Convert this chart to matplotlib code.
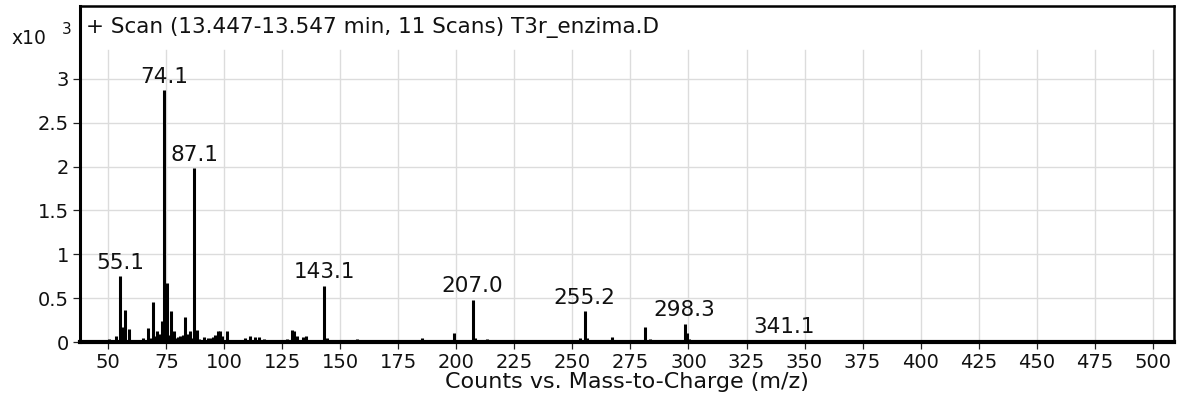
import matplotlib
matplotlib.use("Agg")
import matplotlib.pyplot as plt

# ---- data (m/z, intensity in x10^3 counts) ----
mz = [50.1, 51.1, 53.1, 55.1, 56.1, 57.1, 59.1, 65.1, 67.1, 68.1, 69.1, 70.1,
      71.1, 72.1, 73.1, 74.1, 75.1, 76.1, 77.1, 78.1, 79.1, 80.1, 81.1, 82.1,
      83.1, 84.1, 85.1, 86.1, 87.1, 88.1, 89.1, 91.1, 93.1, 94.1, 95.1, 96.1,
      97.1, 98.1, 99.1, 101.1, 109.1, 111.1, 113.1, 115.1, 117.1, 119.1, 121.1,
      127.1, 129.1, 130.1, 131.1, 134.1, 135.1, 143.1, 144.1, 147.1, 157.1,
      185.1, 191.1, 199.1, 207.0, 208.0, 213.1, 241.1, 253.1, 255.2, 256.2,
      267.2, 269.2, 281.2, 283.2, 298.3, 299.3, 300.3, 341.1]
intensity = [0.03, 0.02, 0.07, 0.75, 0.17, 0.37, 0.15, 0.04, 0.16, 0.05, 0.46, 0.07,
             0.13, 0.09, 0.24, 2.87, 0.67, 0.08, 0.35, 0.12, 0.05, 0.06, 0.07, 0.08,
             0.28, 0.09, 0.12, 0.05, 1.98, 0.14, 0.03, 0.06, 0.05, 0.04, 0.06, 0.08,
             0.12, 0.13, 0.07, 0.12, 0.04, 0.07, 0.06, 0.06, 0.03, 0.02, 0.02,
             0.03, 0.14, 0.12, 0.07, 0.06, 0.07, 0.64, 0.05, 0.02, 0.03,
             0.04, 0.02, 0.10, 0.48, 0.04, 0.03, 0.02, 0.04, 0.35, 0.04,
             0.06, 0.02, 0.17, 0.03, 0.21, 0.10, 0.03, 0.02]
labeled_peaks = ["55.1", "74.1", "87.1", "143.1", "207.0", "255.2", "298.3", "341.1"]
x_ticks = list(range(50, 501, 25))
y_ticks = [0, 0.5, 1, 1.5, 2, 2.5, 3]
y_tick_labels = ["0", "0.5", "1", "1.5", "2", "2.5", "3"]
title = "+ Scan (13.447-13.547 min, 11 Scans) T3r_enzima.D"
xlabel = "Counts vs. Mass-to-Charge (m/z)"

plt.rcParams['font.family'] = ['DejaVu Sans']

fig = plt.figure(figsize=(11.79, 3.97), dpi=100)
ax = fig.add_axes([80/1179, 1-342/397, 1094/1179, 336/397])
ax.set_xlim(37.8, 509.2)
ax.set_ylim(0, 3.83)

grid_col = "#dcdcdc"
grid_top = 3.33
for xt in x_ticks:
    ax.plot([xt, xt], [0, grid_top], color=grid_col, lw=1.0, zorder=0)
for yt in y_ticks[1:]:
    ax.axhline(yt, color=grid_col, lw=1.0, zorder=0)

ax.vlines(mz, 0, intensity, color="black", lw=2.2, zorder=3)

for mzv, iv in zip(mz, intensity):
    lab = f"{mzv:.1f}"
    if lab in labeled_peaks:
        ax.annotate(lab, xy=(mzv, iv), xytext=(0, 5.5), textcoords="offset points",
                    ha="center", va="baseline", fontsize=15.5, color="#111111", zorder=4)

ax.set_xticks(x_ticks)
ax.set_xticklabels([str(v) for v in x_ticks])
ax.set_yticks(y_ticks)
ax.set_yticklabels(y_tick_labels)
ax.tick_params(axis="both", direction="out", length=5, width=0.9, colors="#222222",
               labelsize=14, labelcolor="#111111")
ax.tick_params(axis="x", pad=3)
ax.tick_params(axis="y", pad=3)

for side in ["top", "right"]:
    ax.spines[side].set_linewidth(1.8)
ax.spines["left"].set_linewidth(2.2)
ax.spines["bottom"].set_linewidth(3.0)
for s in ax.spines.values():
    s.set_color("black")
    s.set_zorder(5)

ax.text(6/1094, 1 - 21/336, title, transform=ax.transAxes, ha="left", va="center",
        fontsize=15.5, color="#111111")

fig.text(11/1179, 1 - 38/397, "x10", ha="left", va="center", fontsize=13.5, color="#111111")
fig.text(62/1179, 1 - 30/397, "3", ha="left", va="center", fontsize=11, color="#111111")

fig.text((80 + 547)/1179, 1 - 382/397, xlabel, ha="center", va="center",
         fontsize=16, color="#111111")

fig.savefig("out.png", dpi=100)
